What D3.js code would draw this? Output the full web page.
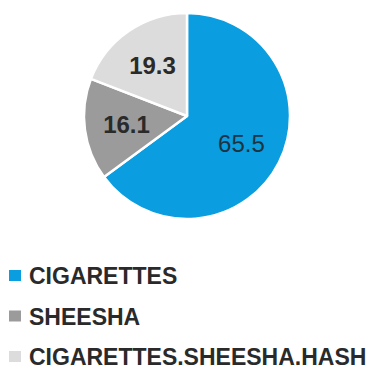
<!DOCTYPE html>
<html>
<head>
<meta charset="utf-8">
<script src="https://cdn.jsdelivr.net/npm/d3@7"></script>
<style>
  html, body { margin: 0; padding: 0; background: #fff; }
  svg { display: block; }
  text { font-family: "Liberation Sans", Arial, Helvetica, sans-serif; }
</style>
</head>
<body>
<svg id="chart" width="375" height="373"></svg>
<script>
// Share of each smoking type (percent)
const categories = ["CIGARETTES", "SHEESHA", "CIGARETTES.SHEESHA.HASH"];
const values = [65.5, 16.1, 19.3];
const colors = ["#0a9de0", "#9b9b9b", "#dcdcdc"];

const width = 375, height = 373;
const cx = 187, cy = 116, radius = 103;

const svg = d3.select("#chart");

const pie = d3.pie().sort(null).value(d => d.value);
const arcs = pie(categories.map((c, i) => ({ name: c, value: values[i], color: colors[i] })));

const arc = d3.arc().innerRadius(0).outerRadius(radius);
const labelArc = d3.arc().innerRadius(61).outerRadius(61);

const g = svg.append("g").attr("transform", `translate(${cx},${cy})`);

g.selectAll("path")
  .data(arcs)
  .join("path")
  .attr("d", arc)
  .attr("fill", d => d.data.color)
  .attr("stroke", "#fff")
  .attr("stroke-width", 2.5)
  .attr("stroke-linejoin", "round");

g.selectAll("text.value")
  .data(arcs)
  .join("text")
  .attr("class", "value")
  .attr("transform", d => `translate(${labelArc.centroid(d)})`)
  .attr("text-anchor", "middle")
  .attr("dy", "0.36em")
  .attr("font-size", 24)
  .attr("font-weight", (d, i) => i === 0 ? 400 : 700)
  .attr("fill", (d, i) => i === 0 ? "#1d3441" : "#2a2a2a")
  .text(d => d.data.value.toFixed(1));

// Legend
const legendY = d3.scalePoint().domain(categories).range([276, 357]);

const legend = svg.append("g");
const rows = legend.selectAll("g")
  .data(categories)
  .join("g")
  .attr("transform", d => `translate(0,${legendY(d)})`);

rows.append("rect")
  .attr("x", 9)
  .attr("y", -6)
  .attr("width", 12)
  .attr("height", 11)
  .attr("fill", (d, i) => colors[i]);

rows.append("text")
  .attr("x", 29)
  .attr("dy", "0.36em")
  .attr("font-size", 23)
  .attr("font-weight", 700)
  .attr("fill", "#2a2a2a")
  .text(d => d);
</script>
</body>
</html>
